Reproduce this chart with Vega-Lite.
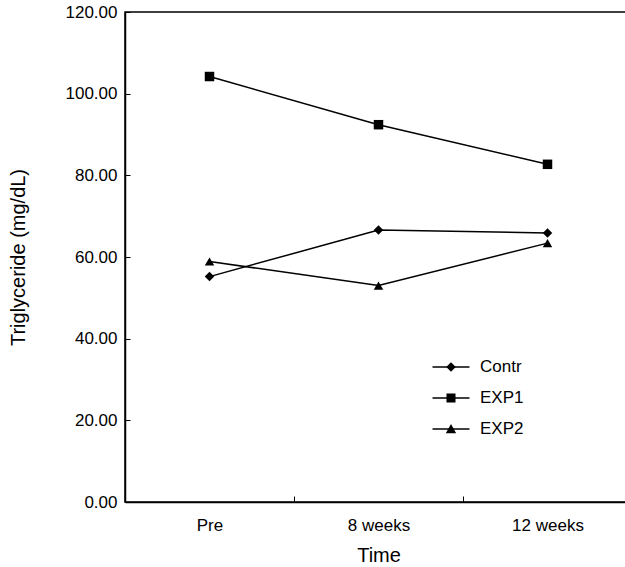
{
  "$schema": "https://vega.github.io/schema/vega-lite/v6.json",
  "autosize": "none",
  "width": 507,
  "height": 490,
  "padding": {"left": 125, "top": 12, "right": 0, "bottom": 65},
  "background": "white",
  "config": {
    "font": "Liberation Sans",
    "view": {"stroke": "black", "strokeWidth": 1.5},
    "axis": {"grid": false, "labelColor": "black", "titleColor": "black", "domainColor": "black", "tickColor": "black", "labelFontSize": 17, "titleFontSize": 20, "titleFontWeight": "normal"}
  },
  "data": {
    "values": [
      {"time": "Pre", "group": "Contr", "value": 55.2},
      {"time": "8 weeks", "group": "Contr", "value": 66.6},
      {"time": "12 weeks", "group": "Contr", "value": 65.9},
      {"time": "Pre", "group": "EXP1", "value": 104.2},
      {"time": "8 weeks", "group": "EXP1", "value": 92.4},
      {"time": "12 weeks", "group": "EXP1", "value": 82.7},
      {"time": "Pre", "group": "EXP2", "value": 58.9},
      {"time": "8 weeks", "group": "EXP2", "value": 53.0},
      {"time": "12 weeks", "group": "EXP2", "value": 63.4}
    ]
  },
  "encoding": {
    "y": {
      "field": "value", "type": "quantitative",
      "scale": {"domain": [0, 120], "nice": false, "zero": true},
      "axis": {"values": [0, 20, 40, 60, 80, 100, 120], "format": ".2f", "tickSize": -5, "labelPadding": 13, "domainWidth": 1.5, "title": "Triglyceride (mg/dL)", "titleFontSize": 20, "titlePadding": 37}
    }
  },
  "layer": [
    {
      "mark": {"type": "point", "opacity": 0},
      "encoding": {
        "x": {"field": "time", "type": "nominal", "sort": ["Pre", "8 weeks", "12 weeks"],
          "scale": {"type": "band", "paddingInner": 0, "paddingOuter": 0},
          "axis": {"orient": "bottom", "bandPosition": 0, "labels": false, "domain": false, "ticks": true, "tickSize": -6, "title": null}}
      }
    },
    {
      "encoding": {
        "x": {"field": "time", "type": "nominal", "sort": ["Pre", "8 weeks", "12 weeks"],
          "scale": {"type": "point", "padding": 0.5},
          "axis": {"orient": "bottom", "ticks": false, "domainWidth": 1.5, "labelAngle": 0, "labelPadding": 15, "title": "Time", "titlePadding": 12}}
      },
      "layer": [
        {"mark": {"type": "line", "color": "black", "strokeWidth": 1.5}, "encoding": {"detail": {"field": "group"}}},
        {"mark": {"type": "point", "filled": true, "color": "black", "opacity": 1, "size": 90},
          "encoding": {"shape": {"field": "group", "type": "nominal", "scale": {"range": ["diamond", "square", "triangle-up"]}, "legend": null}}},
        {"mark": {"type": "point", "filled": false, "color": "black", "strokeWidth": 1.5, "opacity": 0},
          "encoding": {"shape": {"field": "group", "type": "nominal", "title": null,
            "scale": {"range": ["M-1.68,0L1.68,0", "M-1.68,0L1.68,0", "M-1.68,0L1.68,0"]},
            "legend": {"orient": "none", "legendX": 314, "legendY": 343, "padding": 0, "symbolSize": 484, "symbolStrokeWidth": 1.5, "symbolStrokeColor": "black", "symbolOpacity": 1, "labelFontSize": 17, "labelColor": "black", "labelOffset": 17, "rowPadding": 11}}}},
        {"mark": {"type": "point", "filled": true, "color": "black", "opacity": 0},
          "encoding": {"shape": {"field": "group", "type": "nominal", "title": null,
            "scale": {"range": ["M0,-0.43L0.43,0L0,0.43L-0.43,0Z", "M-0.41,-0.41L0.41,-0.41L0.41,0.41L-0.41,0.41Z", "M0,-0.45L0.47,0.38L-0.47,0.38Z"]},
            "legend": {"orient": "none", "legendX": 314, "legendY": 343, "padding": 0, "symbolSize": 484, "symbolFillColor": "black", "symbolOpacity": 1, "labelFontSize": 17, "labelColor": "black", "labelOpacity": 0, "labelOffset": 17, "rowPadding": 11}}}}
      ],
      "resolve": {"scale": {"shape": "independent"}}
    }
  ],
  "resolve": {"scale": {"x": "independent"}, "axis": {"x": "independent"}}
}
